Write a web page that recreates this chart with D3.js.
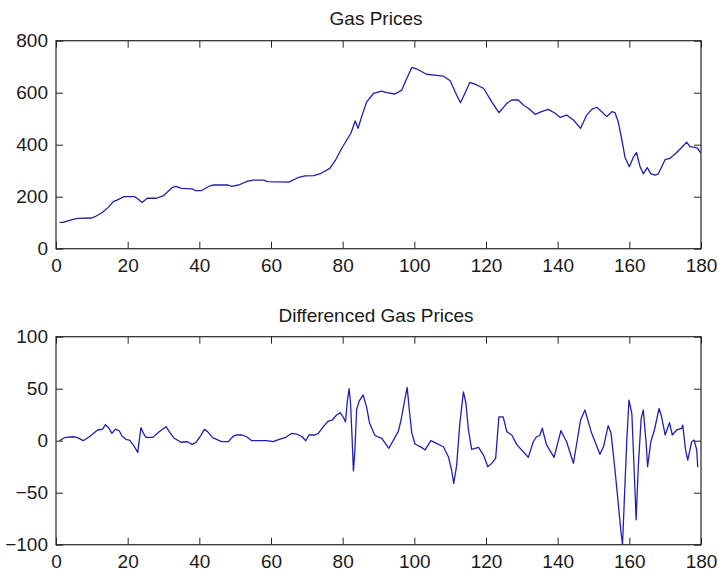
<!DOCTYPE html>
<html>
<head>
<meta charset="utf-8">
<script src="https://cdn.jsdelivr.net/npm/d3@7"></script>
<style>
html,body{margin:0;padding:0;background:#fff;}
svg{display:block;}
text{font-family:"Liberation Sans",Arial,sans-serif;fill:#1a1a1a;}
</style>
</head>
<body>
<svg id="chart" width="718" height="572"></svg>
<script>
// ---- Data ----
const priceWeeks = [1,2,4,6,10,11,13,14.5,16,17,19,22,23,24,25.5,28,30,32.5,33.5,35,38,39,40.5,43,44,48,49,51,53.5,55,58,59,65,67.5,69.5,72,74,76.4,78,80,82.3,83.5,84.3,85.3,86.7,88.6,90.9,92.3,94.6,96.5,97.7,99.3,100.7,103.4,106.2,108.1,110,111.8,112.9,114.1,115.5,116.9,119.3,121.6,123.6,125.8,127.2,129,130.4,131.8,133.7,135.5,137.4,139.3,140.7,142.5,144.4,146.4,148.1,149.5,150.9,152.3,153.7,155.1,156,156.9,157.9,158.8,160,161.1,162,163,163.9,165,166,167.2,168.1,170,171.3,173.2,174.6,176,176.9,178.3,179,180];
const priceValues = [101,101,110,117,118,124,140,158,181,187,200,200,190,178,194,194,204,236,240,232,230,223,223,242,245,245,240,245,260,264,264,258,256,273,280,281,290,309,341,392,444,491,463,508,565,597,606,600,595,610,649,697,691,671,667,664,646,591,562,597,640,633,617,565,523,559,572,572,553,540,517,527,536,521,505,514,495,463,514,536,544,527,508,527,523,488,420,351,315,351,370,315,288,312,288,283,288,343,347,370,389,410,393,390,387,367];

const diffWeeks = [1,2.3,4.7,6,7.6,9.3,11.6,13,13.8,14.7,15.6,16.6,17.7,18.4,19.5,20.5,21.9,22.8,23.7,24.4,25.1,27,28.8,30.7,31.6,33,34.9,36.7,38,39,40.2,41.4,42.3,43.7,45.6,46.2,48.1,49.5,50.4,51.8,53.2,54.6,58.8,60.6,62.5,63.9,65.8,67.2,68.7,69.7,70.6,72.3,73.2,74.6,76,77.1,78.3,79.3,80.2,80.8,81.3,81.8,82.2,82.6,83,83.4,83.9,84.6,85.7,86.7,87.5,89,90.9,92.9,95.5,96.3,97.4,98,98.6,99.3,100.2,102,103,104.6,106.2,108.1,109.5,110.4,111,111.8,112.7,113.7,114.4,115.1,116,117.9,119.3,120.5,121.6,122.7,123.6,124.8,125.8,127.2,128.6,130.4,131.8,133.2,134.1,135,135.7,136.9,139,140.9,142.5,144.4,146.4,147.6,149.5,151.8,152.8,154.1,154.9,156,156.9,157.7,158.1,158.6,159.3,159.9,160.7,161.2,161.9,162.5,163.3,163.9,164.7,165.1,166,167,168.3,169,170,171.2,172,173.2,174.6,174.9,175.7,176.3,177.4,178.1,178.8,179.1];
const diffValues = [0,2.9,3.8,2.9,0,3.8,10.3,11.2,15.4,12.5,7.1,11.2,9.3,4.5,1.3,0.6,-5.8,-11.2,12.5,7.1,3.2,3.2,8.7,13.5,8.7,2.3,-1.5,-1,-3.5,-1.9,3.8,10.9,8.7,2.9,0,-0.9,-0.9,4.5,5.5,5.5,3.8,0,0,-0.9,1.6,2.9,7.1,6.4,3.8,0,5.5,5.5,7.1,13.5,18.9,19.9,24.7,26.9,22.5,18,38,50,36,5,-29,-10,30,38,44,32,17,5,2.2,-7.3,8.7,19.9,40.8,51.3,29.5,7.1,-3.2,-6.4,-8.9,0,-2.5,-5.8,-15.4,-28.2,-41,-24,16.7,47,36,10.3,-8.3,-6.4,-13.8,-25,-21.8,-17,23,23,8.7,5.5,-3.8,-10.6,-16,-1,3.8,5,12,-4,-16,9.6,-1,-21.7,20,29.5,7.1,-13.1,-5.8,14.4,7.1,-28.2,-60,-89,-100,-57,0.7,39,26.3,-16,-76,-25,21.5,29.5,-2.5,-25,-1,10.3,31,23,5.5,17.3,5.5,10.3,11.9,15,-8.9,-18.6,-1,0.6,-8.9,-25.6];

const xTicks = [0,20,40,60,80,100,120,140,160,180];
const priceTicks = [0,200,400,600,800];
const diffTicks = [-100,-50,0,50,100];
const titles = ["Gas Prices","Differenced Gas Prices"];

// ---- Layout ----
const svg = d3.select("#chart");
const left = 56, right = 701;
const panels = [
  {top: 40.7, bottom: 248.7, domain: [0,800], ticks: priceTicks, xs: priceWeeks, ys: priceValues, title: titles[0], titleY: 25},
  {top: 336.7, bottom: 544.7, domain: [-100,100], ticks: diffTicks, xs: diffWeeks, ys: diffValues, title: titles[1], titleY: 321.5}
];
const axisColor = "#262626";
const lineColor = "#2020b0";
const fontSize = 19;
const tickLen = 7;

panels.forEach((p, pi) => {
  const x = d3.scaleLinear().domain([0,180]).range([left, right]);
  const y = d3.scaleLinear().domain(p.domain).range([p.bottom, p.top]);
  const g = svg.append("g");

  // clip path
  const clipId = "clip" + pi;
  svg.append("clipPath").attr("id", clipId).append("rect")
    .attr("x", left).attr("y", p.top).attr("width", right-left).attr("height", p.bottom-p.top);

  // data line
  const pts = p.xs.map((d,i) => [d, p.ys[i]]);
  g.append("path")
    .attr("clip-path", `url(#${clipId})`)
    .attr("d", d3.line().x(d => x(d[0])).y(d => y(d[1]))(pts))
    .attr("fill","none").attr("stroke", lineColor).attr("stroke-width", 1.3)
    .attr("stroke-linejoin","round");

  // bottom axis (ticks inward), labels
  const bottomAxis = d3.axisBottom(x).tickValues(xTicks).tickSize(-tickLen).tickPadding(tickLen + 10).tickFormat(d3.format("d"));
  const gb = g.append("g").attr("transform", `translate(0,${p.bottom})`).call(bottomAxis);
  const topAxis = d3.axisTop(x).tickValues(xTicks).tickSize(-tickLen).tickFormat("");
  const gt = g.append("g").attr("transform", `translate(0,${p.top})`).call(topAxis);
  const leftAxis = d3.axisLeft(y).tickValues(p.ticks).tickSize(-tickLen).tickPadding(tickLen + 8).tickFormat(d3.format("d"));
  const gl = g.append("g").attr("transform", `translate(${left},0)`).call(leftAxis);
  const rightAxis = d3.axisRight(y).tickValues(p.ticks).tickSize(-tickLen).tickFormat("");
  const gr = g.append("g").attr("transform", `translate(${right},0)`).call(rightAxis);

  [gb,gt,gl,gr].forEach(a => {
    a.select(".domain").remove();
    a.selectAll(".tick line").attr("stroke", axisColor).attr("stroke-width", 1);
    a.selectAll("text").attr("font-size", fontSize).attr("font-family", '"Liberation Sans",Arial,sans-serif').attr("fill","#1a1a1a");
  });
  gb.selectAll("text").attr("dy", null).attr("y", 0).attr("transform", `translate(0,${10})`).attr("dominant-baseline","hanging");
  gl.selectAll("text").attr("x", -8);

  // box
  g.append("rect").attr("x", left).attr("y", p.top).attr("width", right-left).attr("height", p.bottom-p.top)
    .attr("fill","none").attr("stroke", axisColor).attr("stroke-width", 1.2);

  // title
  g.append("text").attr("x", 376).attr("y", p.titleY).attr("text-anchor","middle")
    .attr("font-size", fontSize).text(p.title);
});
</script>
</body>
</html>
